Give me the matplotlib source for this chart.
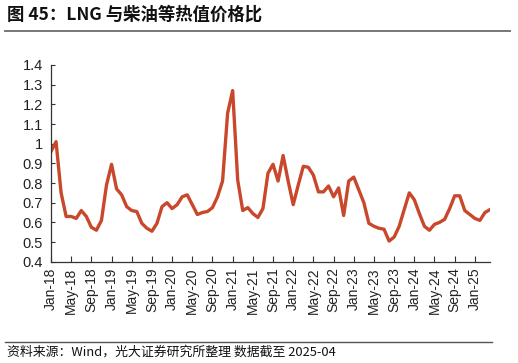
import matplotlib
matplotlib.use("Agg")
import matplotlib.pyplot as plt
import pandas as pd
from matplotlib.lines import Line2D

months = pd.date_range("2018-01-01", "2025-04-01", freq="MS")

# LNG / diesel price ratio at equal heat value (monthly)
ratio = [
    0.96, 1.01, 0.75, 0.63, 0.63, 0.62, 0.66, 0.63, 0.575, 0.56, 0.61, 0.79,
    0.895, 0.77, 0.74, 0.68, 0.66, 0.655, 0.595, 0.57, 0.555, 0.595, 0.68, 0.70,
    0.67, 0.69, 0.73, 0.74, 0.69, 0.64, 0.65, 0.655, 0.675, 0.73, 0.81, 1.155,
    1.27, 0.815, 0.66, 0.675, 0.645, 0.625, 0.67, 0.85, 0.895, 0.81, 0.94, 0.81,
    0.69, 0.79, 0.885, 0.88, 0.84, 0.755, 0.755, 0.785, 0.73, 0.775, 0.635, 0.81,
    0.83, 0.765, 0.70, 0.595, 0.58, 0.57, 0.565, 0.505, 0.525, 0.58, 0.665, 0.75,
    0.715, 0.645, 0.58, 0.56, 0.59, 0.60, 0.615, 0.67, 0.735, 0.735, 0.66, 0.64,
    0.62, 0.61, 0.65, 0.665,
]
tick_labels = [m.strftime("%b-%y") for m in months[::4]]
y_ticks = [0.4, 0.5, 0.6, 0.7, 0.8, 0.9, 1.0, 1.1, 1.2, 1.3, 1.4]
y_labels = ["0.4", "0.5", "0.6", "0.7", "0.8", "0.9", "1", "1.1", "1.2", "1.3", "1.4"]

cjk = ["Noto Sans CJK SC", "DejaVu Sans"]
latin = ["Liberation Sans", "DejaVu Sans"]

fig = plt.figure(figsize=(5.18, 3.63), dpi=100)
ax = fig.add_axes([51 / 518, 101.3 / 363, 439 / 518, 196.7 / 363])

x = list(range(len(ratio)))
ax.plot(x, ratio, color="#C9472B", linewidth=2.4, solid_joinstyle="round")

ax.set_xlim(0, len(ratio) - 1)
ax.set_ylim(0.4, 1.4)
ax.set_xticks(x[::4])
ax.set_xticklabels(tick_labels, rotation=90, fontsize=10, family=latin, color="#222222")
ax.set_yticks(y_ticks)
ax.set_yticklabels(y_labels, fontsize=10.5, family=latin, color="#222222")
ax.tick_params(axis="x", direction="in", length=4, width=0.8, color="#333333", pad=4)
ax.tick_params(axis="y", direction="in", length=3, width=0.8, color="#333333", pad=6)

for s in ["top", "right"]:
    ax.spines[s].set_visible(False)
for s in ["left", "bottom"]:
    ax.spines[s].set_color("#333333")
    ax.spines[s].set_linewidth(0.9)

# title and footer
fig.text(7 / 518, 1 - 15 / 363, "图 45：LNG 与柴油等热值价格比", family=cjk,
         fontsize=12.5, fontweight="bold", va="center", ha="left", color="#111111")
fig.add_artist(Line2D([5 / 518, 510 / 518], [1 - 30.7 / 363] * 2,
                      transform=fig.transFigure, color="#777777", linewidth=1.4))
fig.add_artist(Line2D([5 / 518, 492 / 518], [1 - 341.7 / 363] * 2,
                      transform=fig.transFigure, color="#555555", linewidth=1.0))
fig.text(7 / 518, 1 - 352 / 363, "资料来源：Wind，光大证券研究所整理 数据截至 2025-04",
         family=cjk, fontsize=9.3, va="center", ha="left", color="#111111")

fig.savefig("out.png", dpi=100)
